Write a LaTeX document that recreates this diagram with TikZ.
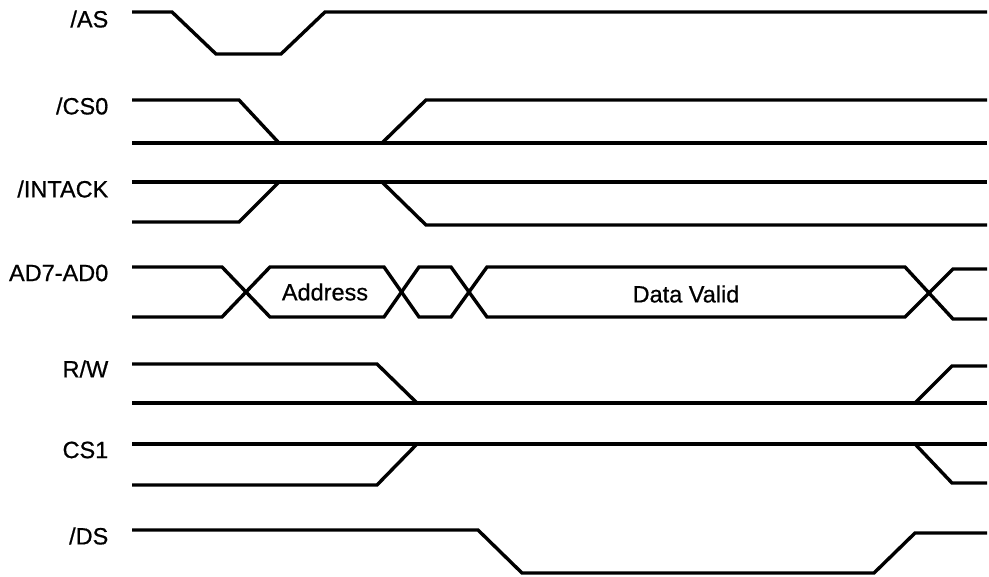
\documentclass[tikz,border=0pt]{standalone}
\usepackage{fontspec}
\setmainfont{Liberation Sans}
\newfontfamily\sigfont{Liberation Sans}[FakeBold=0.7]
\usetikzlibrary{positioning}

\begin{document}
\begin{tikzpicture}[x=1pt,y=-1pt,line width=3.4pt,line join=miter,
  every node/.style={font=\sigfont\fontsize{23.5}{26}\selectfont,inner sep=0pt},
  siglabel/.style={anchor=east}]
  \useasboundingbox (0,0) rectangle (989,577);
  % signal names
  \node[siglabel] (lAS) at (110,19){/AS};
  \node[siglabel] (lCSa) at (110,106){/CS0};
  \node[siglabel] (lINT) at (110,189){/INTACK};
  \node[siglabel] (lAD) at (110,273){AD7-AD0};
  \node[siglabel] (lRW) at (110,369){R/W};
  \node[siglabel] (lCSb) at (110,450){CS1};
  \node[siglabel] (lDS) at (110,536){/DS};
  % /AS
  \draw (132,12) -- (172,12) -- (216,54) -- (281,54) -- (325,12) -- (987,12);
  % /CS0
  \draw (132,100) -- (239,100) -- (279,143);
  \draw (132,143) -- (987,143);
  \draw (382,143) -- (426,100) -- (987,100);
  % /INTACK
  \draw (132,222) -- (239,222) -- (279,182);
  \draw (132,182) -- (987,182);
  \draw (382,182) -- (426,225) -- (987,225);
  % AD7-AD0 bus
  \draw (132,267) -- (222,267) -- (270,317) -- (384,317) -- (419,267) -- (451,267) -- (487,317) -- (905,317) -- (953,269) -- (987,269);
  \draw (132,317) -- (222,317) -- (270,267) -- (384,267) -- (419,317) -- (451,317) -- (487,267) -- (905,267) -- (953,319) -- (987,319);
  \node (addr) at (325,292){Address};
  \node (dval) at (686,294){Data Valid};
  % R/W
  \draw (132,364) -- (377,364) -- (417,403);
  \draw (132,403) -- (987,403);
  \draw (915,403) -- (952,366) -- (987,366);
  % CS1
  \draw (132,444) -- (987,444);
  \draw (132,485) -- (377,485) -- (417,444);
  \draw (915,444) -- (952,483) -- (987,483);
  % /DS
  \draw (132,530) -- (478,530) -- (522,573) -- (874,573) -- (915,533) -- (987,533);
\end{tikzpicture}
\end{document}
